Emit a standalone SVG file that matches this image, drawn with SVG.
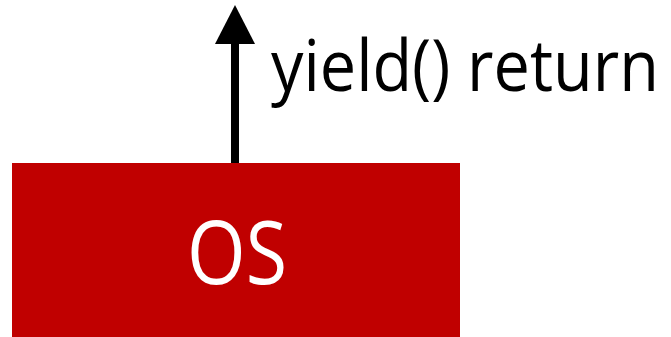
<svg xmlns="http://www.w3.org/2000/svg" width="671" height="337" viewBox="0 0 671 337">
<style>
.lbl{font-family:"Open Sans","Noto Sans",sans-serif;}
</style>
<rect width="671" height="337" fill="#ffffff"/>
<g id="connectors">
<line x1="235" y1="163" x2="235" y2="42" stroke="#000" stroke-width="8"/>
<polygon points="235,5 255,44 215,44" fill="#000"/>
<text class="lbl" transform="translate(271,90.5) scale(0.9,1)" x="0" y="0" font-size="71" textLength="431" lengthAdjust="spacingAndGlyphs" fill="#000">yield() return</text>
</g>
<g id="os">
<rect x="12" y="163" width="448" height="174" fill="#c00000"/>
<text class="lbl" x="187" y="284" font-size="87" textLength="100" lengthAdjust="spacingAndGlyphs" fill="#fff">OS</text>
</g>
</svg>
